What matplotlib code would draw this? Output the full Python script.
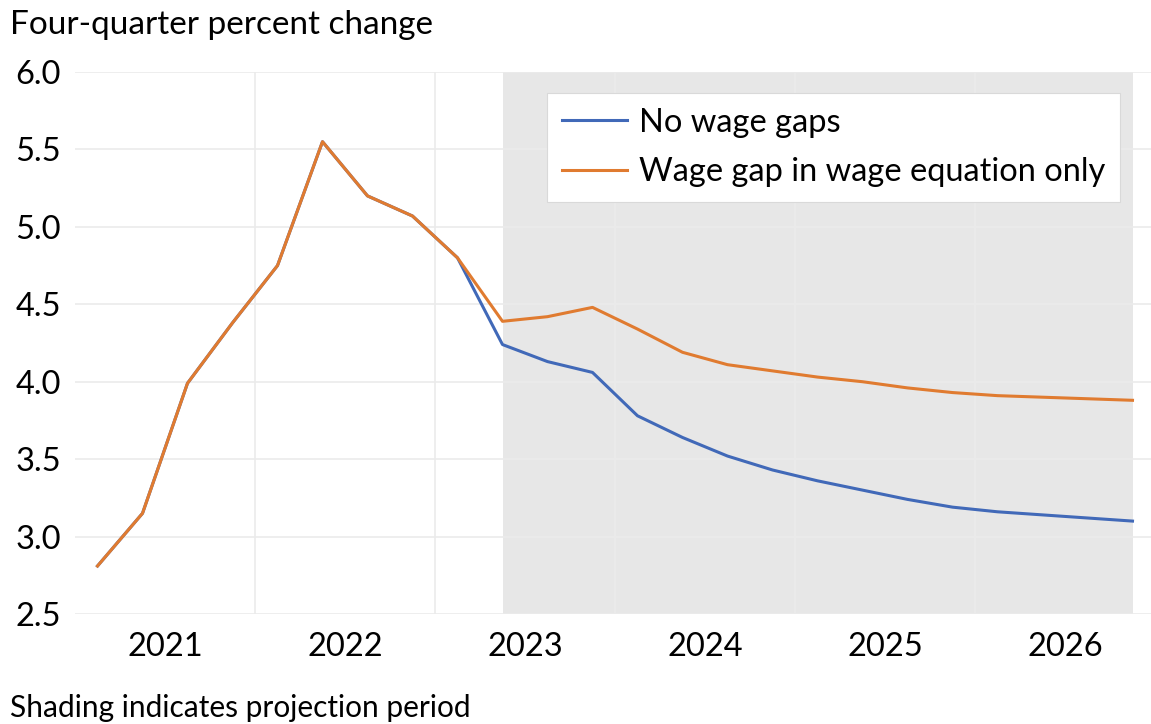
import numpy as np
import matplotlib
matplotlib.use('Agg')
import matplotlib.pyplot as plt

# quarterly data, 2021Q1 .. 2026Q4
quarters = ['%dQ%d' % (y, q) for y in range(2021, 2027) for q in range(1, 5)]
no_wage_gaps = [2.81, 3.15, 3.99, 4.38, 4.75, 5.55, 5.20, 5.07, 4.80,
                4.24, 4.13, 4.06, 3.78, 3.64, 3.52, 3.43, 3.36, 3.30,
                3.24, 3.19, 3.16, 3.14, 3.12, 3.10]
wage_eq_only = [2.81, 3.15, 3.99, 4.38, 4.75, 5.55, 5.20, 5.07, 4.80,
                4.39, 4.42, 4.48, 4.34, 4.19, 4.11, 4.07, 4.03, 4.00,
                3.96, 3.93, 3.91, 3.90, 3.89, 3.88]
years = ['2021', '2022', '2023', '2024', '2025', '2026']
projection_start = '2023Q2'

plt.rcParams['font.family'] = ['Lato', 'DejaVu Sans']
FS = 23.5

W, H = 1151, 724
fig = plt.figure(figsize=(W / 100, H / 100), dpi=100)
ax = fig.add_axes([75 / W, 110 / H, 1080 / W, 542 / H])

xvals = np.arange(len(quarters))
p0 = quarters.index(projection_start)

# shading for projection period
ax.axvspan(p0, xvals[-1], color='#E7E7E7', lw=0, zorder=0)

# gridlines
for yv in np.arange(2.5, 6.01, 0.5):
    ax.axhline(yv, color='#EBEBEB', lw=1.2, zorder=1)
for k in range(1, len(years)):
    ax.axvline(4 * k - 0.5, color='#EBEBEB', lw=1.2, zorder=1)

ax.plot(xvals, no_wage_gaps, color='#4169B8', lw=2.2, label='No wage gaps', zorder=3)
ax.plot(xvals, wage_eq_only, color='#E07B30', lw=2.2, label='Wage gap in wage equation only', zorder=4)

ax.set_xlim(-0.5, len(quarters) - 0.5)
ax.set_ylim(2.5, 6.0)
ax.set_yticks(np.arange(2.5, 6.01, 0.5))
ax.set_yticklabels(['%.1f' % v for v in np.arange(2.5, 6.01, 0.5)], fontsize=FS)
ax.set_xticks([4 * k + 1.5 for k in range(len(years))])
ax.set_xticklabels(years, fontsize=FS)
ax.tick_params(axis='both', length=0)
ax.tick_params(axis='y', pad=10)
ax.tick_params(axis='x', pad=13)
[ax.spines[loc].set_visible(False) for loc in ['top', 'left', 'right', 'bottom']]

leg = ax.legend(loc='upper left', bbox_to_anchor=(547 / W, (H - 93) / H),
                bbox_transform=fig.transFigure, fontsize=FS, frameon=True,
                fancybox=False, borderaxespad=0, handlelength=2.0,
                handletextpad=0.38, labelspacing=0.6, borderpad=0.45)
leg.get_frame().set_edgecolor('#D9D9D9')
leg.get_frame().set_linewidth(0.8)
leg.get_frame().set_alpha(1)

fig.text(10 / W, (H - 25) / H, 'Four-quarter percent change', fontsize=24,
         ha='left', va='center')
fig.text(10 / W, (H - 708) / H, 'Shading indicates projection period', fontsize=21.5,
         ha='left', va='center')

fig.savefig('out.png', dpi=100)
